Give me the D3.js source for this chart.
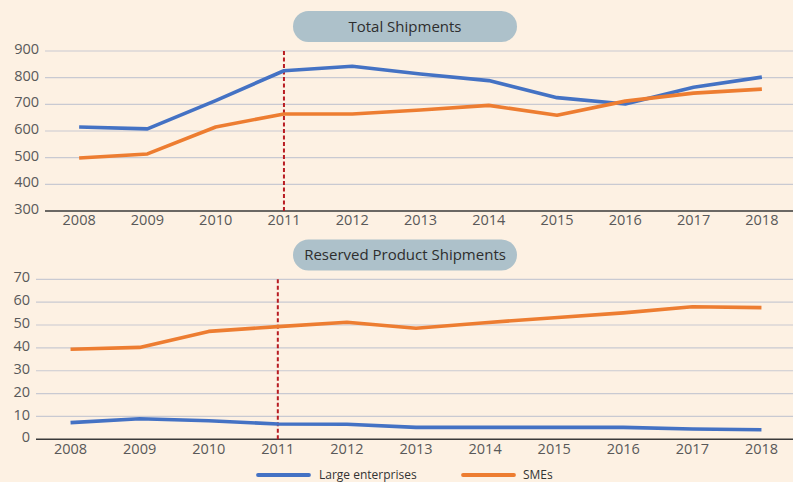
<!DOCTYPE html>
<html>
<head>
<meta charset="utf-8">
<script src="https://cdn.jsdelivr.net/npm/d3@7"></script>
<style>
  html, body { margin: 0; padding: 0; background: #fdf1e3; }
  svg { display: block; }
  text { font-family: "Open Sans", "Noto Sans", sans-serif; }
</style>
</head>
<body>
<svg id="chart" width="793" height="482"></svg>
<script>
// Years on the horizontal axis of both panels
const years = ["2008", "2009", "2010", "2011", "2012", "2013", "2014", "2015", "2016", "2017", "2018"];

// Total shipments
const totalLarge = [615, 608, 714, 826, 843, 814, 789, 725, 701, 764, 802];
const totalSME   = [499, 514, 615, 664, 664, 679, 696, 659, 712, 742, 757];

// Reserved product shipments
const reservedLarge = [7.3, 9.0, 8.1, 6.7, 6.6, 5.2, 5.2, 5.2, 5.2, 4.5, 4.2];
const reservedSME   = [39.4, 40.2, 47.2, 49.3, 51.2, 48.6, 51.0, 53.2, 55.3, 58.0, 57.6];

const totalTicks = [300, 400, 500, 600, 700, 800, 900];
const reservedTicks = [0, 10, 20, 30, 40, 50, 60, 70];

const seriesNames = ["Large enterprises", "SMEs"];
const seriesColors = ["#4472c4", "#ed7d31"];
const markerYear = "2011";

const svg = d3.select("#chart");
const W = 793;
const FONT = "'Open Sans', 'Noto Sans', sans-serif";

function panel(cfg) {
  const g = svg.append("g");
  const x = d3.scaleBand().domain(years).range([cfg.x0, 796]);
  const y = d3.scaleLinear().domain(cfg.domain).range([cfg.yBottom, cfg.yTop]);

  // horizontal gridlines
  g.selectAll("line.grid").data(cfg.ticks.slice(1)).join("line")
    .attr("x1", cfg.x0).attr("x2", W)
    .attr("y1", d => y(d)).attr("y2", d => y(d))
    .attr("stroke", "#c9cad2").attr("stroke-width", 1.2);

  // y tick labels
  g.selectAll("text.ytick").data(cfg.ticks).join("text")
    .attr("x", cfg.x0 - 6).attr("y", d => y(d) - 2)
    .attr("dy", "0.35em")
    .attr("text-anchor", "end")
    .attr("font-size", 14.5).attr("fill", "#595959")
    .text(d => d);

  // baseline axis
  g.append("line")
    .attr("x1", cfg.x0).attr("x2", W)
    .attr("y1", y(cfg.domain[0])).attr("y2", y(cfg.domain[0]))
    .attr("stroke", "#3a3a3a").attr("stroke-width", 1.6);

  // x labels via axis generator
  const ax = g.append("g")
    .attr("transform", `translate(0,${y(cfg.domain[0])})`)
    .call(d3.axisBottom(x).tickSize(0).tickPadding(4));
  ax.select(".domain").remove();
  ax.attr("font-family", FONT).attr("font-size", 14.5);
  ax.selectAll("text").attr("fill", "#595959");

  // dashed vertical marker
  const mx = x(markerYear) + x.bandwidth() / 2;
  g.append("line")
    .attr("x1", mx).attr("x2", mx)
    .attr("y1", y(cfg.domain[1])).attr("y2", y(cfg.domain[0]))
    .attr("stroke", "#b81c22").attr("stroke-width", 2)
    .attr("stroke-dasharray", "4,2.5");

  // series lines
  const line = d3.line()
    .x((d, i) => x(years[i]) + x.bandwidth() / 2)
    .y(d => y(d));
  cfg.series.forEach((s, i) => {
    g.append("path").datum(s)
      .attr("fill", "none")
      .attr("stroke", seriesColors[i])
      .attr("stroke-width", 3.6)
      .attr("stroke-linejoin", "round")
      .attr("d", line);
  });

  // title pill
  const pill = g.append("g");
  pill.append("rect")
    .attr("x", 293).attr("y", cfg.pillY)
    .attr("width", 224).attr("height", 31)
    .attr("rx", 15.5).attr("ry", 15.5)
    .attr("fill", "#adc1ca");
  pill.append("text")
    .attr("x", 405).attr("y", cfg.pillY + 15.5)
    .attr("dy", "0.35em")
    .attr("text-anchor", "middle")
    .attr("font-size", 15).attr("fill", "#2e2e2e")
    .text(cfg.title);
}

panel({
  title: "Total Shipments",
  domain: [300, 900], ticks: totalTicks,
  x0: 45, yTop: 51, yBottom: 211, pillY: 11,
  series: [totalLarge, totalSME]
});

panel({
  title: "Reserved Product Shipments",
  domain: [0, 70], ticks: reservedTicks,
  x0: 36, yTop: 279.3, yBottom: 439.3, pillY: 239.5,
  series: [reservedLarge, reservedSME]
});

// legend
const legend = svg.append("g");
const legendPos = [{ lx: 258, tx: 319 }, { lx: 463, tx: 523 }];
seriesNames.forEach((name, i) => {
  legend.append("line")
    .attr("x1", legendPos[i].lx).attr("x2", legendPos[i].lx + 51)
    .attr("y1", 475).attr("y2", 475)
    .attr("stroke", seriesColors[i]).attr("stroke-width", 3.8)
    .attr("stroke-linecap", "round");
  legend.append("text")
    .attr("x", legendPos[i].tx).attr("y", 475).attr("dy", "0.35em")
    .attr("font-size", 12).attr("fill", "#333")
    .text(name);
});
</script>
</body>
</html>
